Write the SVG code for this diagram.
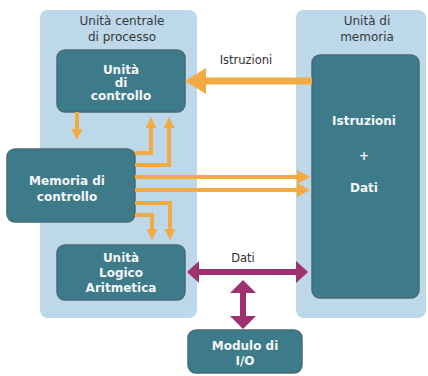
<svg xmlns="http://www.w3.org/2000/svg" width="428" height="376" viewBox="0 0 428 376">
<style>
.panel{fill:#bcd8e9}
.box{fill:#3e7b8a;stroke:#4a6a73;stroke-width:1.5}
.title{font-family:"DejaVu Sans",sans-serif;font-size:12px;fill:#383838;text-anchor:middle}
.lbl{font-family:"DejaVu Sans",sans-serif;font-size:12px;font-weight:bold;fill:#f4f6f6;text-anchor:middle}
.clbl{font-family:"DejaVu Sans",sans-serif;font-size:11.5px;fill:#2f2f2f;text-anchor:middle}
.or{fill:none;stroke:#f4aa42;stroke-width:4}
.orb{fill:none;stroke:#f4aa42;stroke-width:7}
.pu{fill:none;stroke:#a0306f;stroke-width:6}
</style>
<defs>
<marker id="oa" markerUnits="userSpaceOnUse" markerWidth="12" markerHeight="12" refX="5" refY="5.5" orient="auto"><path d="M0,0 L11,5.5 L0,11 z" fill="#f4aa42"/></marker>
<marker id="ob" markerUnits="userSpaceOnUse" markerWidth="14" markerHeight="14" refX="6" refY="7" orient="auto"><path d="M0,0 L13,7 L0,14 z" fill="#f4aa42"/></marker>
<marker id="oc" markerUnits="userSpaceOnUse" markerWidth="22" markerHeight="26" refX="2" refY="13" orient="auto"><path d="M0,0 L21,13 L0,26 z" fill="#f4aa42"/></marker>
<marker id="pa" markerUnits="userSpaceOnUse" markerWidth="13" markerHeight="22" refX="2" refY="11" orient="auto-start-reverse"><path d="M0,0 L12,11 L0,22 z" fill="#a0306f"/></marker>
<marker id="pb" markerUnits="userSpaceOnUse" markerWidth="14" markerHeight="26" refX="2" refY="13" orient="auto-start-reverse"><path d="M0,0 L13,13 L0,26 z" fill="#a0306f"/></marker>
</defs>

<g id="cpu">
<rect class="panel" x="40" y="10" width="157" height="308" rx="8"/>
<text class="title" x="122" y="25">Unità centrale</text>
<text class="title" x="122" y="41">di processo</text>
</g>
<g id="memoria-unita">
<rect class="panel" x="296" y="10" width="130" height="308" rx="8"/>
<text class="title" x="367" y="25">Unità di</text>
<text class="title" x="367" y="41">memoria</text>
</g>

<g id="unita-controllo">
<rect class="box" x="57" y="50" width="128" height="62" rx="8"/>
<text class="lbl" x="121" y="74">Unità</text>
<text class="lbl" x="121" y="87">di</text>
<text class="lbl" x="121" y="100">controllo</text>
</g>
<g id="memoria-controllo">
<rect class="box" x="7" y="149" width="128" height="73" rx="8"/>
<text class="lbl" x="67" y="185">Memoria di</text>
<text class="lbl" x="67" y="201">controllo</text>
</g>
<g id="alu">
<rect class="box" x="57" y="245" width="128" height="55" rx="8"/>
<text class="lbl" x="121" y="262">Unità</text>
<text class="lbl" x="121" y="277">Logico</text>
<text class="lbl" x="121" y="292">Aritmetica</text>
</g>
<g id="memoria">
<rect class="box" x="312" y="55" width="107" height="243" rx="8"/>
<text class="lbl" x="364" y="125">Istruzioni</text>
<text class="lbl" x="364" y="160">+</text>
<text class="lbl" x="364" y="192">Dati</text>
</g>
<g id="io">
<rect class="box" x="188" y="330" width="114" height="43" rx="8"/>
<text class="lbl" x="245" y="350">Modulo di</text>
<text class="lbl" x="245" y="365">I/O</text>
</g>

<g id="connectors">
<line class="orb" x1="312" y1="81" x2="204" y2="81" marker-end="url(#oc)"/>
<text class="clbl" x="246" y="64">Istruzioni</text>
<line class="or" x1="77" y1="112" x2="77" y2="134" marker-end="url(#oa)"/>
<path class="or" d="M135,153 H151 V123" marker-end="url(#oa)"/>
<path class="or" d="M135,165 H169 V123" marker-end="url(#oa)"/>
<line class="or" x1="135" y1="177" x2="303" y2="177" marker-end="url(#ob)"/>
<line class="or" x1="135" y1="190" x2="303" y2="190" marker-end="url(#ob)"/>
<path class="or" d="M135,203 H170 V234" marker-end="url(#oa)"/>
<path class="or" d="M135,215 H152 V234" marker-end="url(#oa)"/>
<line class="pu" x1="197" y1="272" x2="298" y2="272" marker-start="url(#pa)" marker-end="url(#pa)"/>
<text class="clbl" x="243" y="262">Dati</text>
<line class="pu" x1="243" y1="291" x2="243" y2="318" marker-start="url(#pb)" marker-end="url(#pb)"/>
</g>
</svg>
